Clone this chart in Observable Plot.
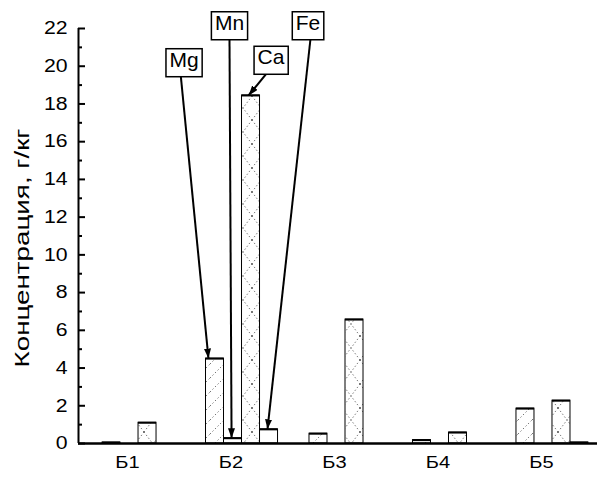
<!DOCTYPE html>
<html><head><meta charset="utf-8">
<script src="https://cdn.jsdelivr.net/npm/d3@7"></script>
<script src="https://cdn.jsdelivr.net/npm/@observablehq/plot@0.6"></script>
<style>body{margin:0;background:#fff}</style>
</head><body><div id="chart"></div>
<script>
// ---- data ----
const groups = ["Б1", "Б2", "Б3", "Б4", "Б5"];
const elements = ["Mg", "Mn", "Ca", "Fe"];
const mgValues = [0.05, 4.5, 0.52, 0.18, 1.85];
const mnValues = [0, 0.28, 0, 0, 0];
const caValues = [1.1, 18.45, 6.57, 0.58, 2.27];
const feValues = [0, 0.75, 0, 0, 0.05];
const yTicks = [0, 2, 4, 6, 8, 10, 12, 14, 16, 18, 20, 22];
const yMinorTicks = [1, 3, 5, 7, 9, 11, 13, 15, 17, 19, 21];
const yTitle = "Концентрация, г/кг";
// annotation labels (pointing at group Б2)
const annLabels = ["Mg", "Mn", "Ca", "Fe"];
const annBoxX = [1.44, 1.879, 2.28, 2.638];
const annBoxY = [20.33, 22.29, 20.46, 22.29];
const annFromX = [1.406, 1.879, 2.246, 2.662];
const annFromY = [19.62, 21.47, 19.67, 21.47];
const annTipX = [1.676, 1.899, 2.063, 2.246];

// ---- layout ----
const W = 603, H = 481, mL = 78, mR = 6, mT = 28, mB = 38;
const xDomain = [0.42, 5.435];
const yDomain = [0, 22];
const bw = 0.174; // bar width in group units
const pxU = (xDomain[1] - xDomain[0]) / (W - mL - mR);
const font = "'Liberation Sans', Arial, sans-serif";

const series = {Mg: mgValues, Mn: mnValues, Ca: caValues, Fe: feValues};
const rows = [];
groups.forEach((g, i) => elements.forEach((e, j) => {
  const c = i + 1;
  rows.push({group: g, element: e, value: series[e][i], x1: c + (j - 2) * bw, x2: c + (j - 1) * bw});
}));
const shown = rows.filter(d => d.value > 0);
const fills = {Mg: "url(#pMg)", Mn: "white", Ca: "url(#pCa)", Fe: "white"};
const b2 = groups.indexOf("Б2");
const ann = annLabels.map((l, k) => ({
  label: l, bx: annBoxX[k], by: annBoxY[k], sx: annFromX[k], sy: annFromY[k],
  tx: annTipX[k], ty: series[l][b2]
}));

const chart = Plot.plot({
  width: W, height: H,
  marginLeft: mL, marginRight: mR, marginTop: mT, marginBottom: mB,
  x: {domain: xDomain, axis: null},
  y: {domain: yDomain, axis: null},
  style: {fontFamily: font, background: "white", color: "black"},
  marks: [
    ...elements.map(e => Plot.rectY(shown.filter(d => d.element === e), {
      x1: "x1", x2: "x2", y1: 0, y2: "value", fill: fills[e], stroke: "black", strokeWidth: 1
    })),
    Plot.ruleY(shown, {x1: "x1", x2: "x2", y: "value", stroke: "black", strokeWidth: 2}),
    Plot.ruleX([xDomain[0]], {y1: yDomain[0], y2: yDomain[1], stroke: "black", strokeWidth: 2}),
    Plot.ruleY([0], {stroke: "black", strokeWidth: 2.5}),
    Plot.ruleY(yTicks, {y: d => d, x1: xDomain[0], x2: xDomain[0] + 7 * pxU, stroke: "black", strokeWidth: 2}),
    Plot.ruleY(yMinorTicks, {y: d => d, x1: xDomain[0], x2: xDomain[0] + 4 * pxU, stroke: "black", strokeWidth: 2}),
    Plot.text(yTicks, {x: xDomain[0], y: d => d, text: d => String(d), dx: -11, textAnchor: "end", fontSize: 18, fill: "black"}),
    Plot.text(groups, {x: (d, i) => i + 1, y: 0, text: d => d, dx: -11, dy: 12, fontSize: 17, lineAnchor: "top", fill: "black"}),
    Plot.text([yTitle], {frameAnchor: "left", text: d => d, rotate: -90, textAnchor: "middle", dx: -56, dy: 12, fontSize: 20, fill: "black"}),
    Plot.link(ann, {x1: "sx", y1: "sy", x2: "tx", y2: "ty", stroke: "black", strokeWidth: 2}),
    Plot.text(ann, {x: "bx", y: "by", text: "label", fontSize: 21, fill: "black"})
  ]
});
document.getElementById("chart").appendChild(chart);

// patterns & arrowheads
const svgNS = "http://www.w3.org/2000/svg";
const defs = document.createElementNS(svgNS, "defs");
defs.innerHTML = `
<pattern id="pMg" patternUnits="userSpaceOnUse" width="14" height="14">
  <rect width="14" height="14" fill="white"/>
  <path d="M0,14 L14,0" stroke="#333" stroke-width="0.8" stroke-dasharray="1.2,2.4"/>
</pattern>
<pattern id="pCa" patternUnits="userSpaceOnUse" width="18" height="24">
  <rect width="18" height="24" fill="white"/>
  <path d="M0,0 L18,24 M18,0 L0,24" stroke="#333" stroke-width="0.8" stroke-dasharray="1.2,2.4"/>
</pattern>
<marker id="ah" viewBox="0 0 10 7" refX="10" refY="3.5" markerWidth="5" markerHeight="3.5" markerUnits="strokeWidth" orient="auto">
  <path d="M0,0 L10,3.5 L0,7 z" fill="black"/>
</marker>`;
chart.insertBefore(defs, chart.firstChild);
chart.querySelectorAll('g[aria-label="link"] path').forEach(p => p.setAttribute("marker-end", "url(#ah)"));

// boxes around annotation labels; horizontal stretch of axis texts
chart.querySelectorAll("text").forEach(t => {
  const s = t.textContent;
  if (annLabels.includes(s)) {
    const bb = t.getBBox();
    const r = document.createElementNS(svgNS, "rect");
    r.setAttribute("x", bb.x - 3.5); r.setAttribute("y", bb.y + 1);
    r.setAttribute("width", bb.width + 7); r.setAttribute("height", bb.height + 5);
    r.setAttribute("fill", "white"); r.setAttribute("stroke", "black"); r.setAttribute("stroke-width", 1.5);
    if (t.hasAttribute("transform")) r.setAttribute("transform", t.getAttribute("transform"));
    t.parentNode.insertBefore(r, t);
  } else if (s === yTitle) {
    const k = 239 / t.getComputedTextLength();
    t.setAttribute("transform", (t.getAttribute("transform") || "") + ` scale(${k},1)`);
  } else if (groups.includes(s) || /^\d+$/.test(s)) {
    const L = t.getComputedTextLength();
    t.setAttribute("textLength", L * 1.18); t.setAttribute("lengthAdjust", "spacingAndGlyphs");
  }
});
</script>
</body></html>
